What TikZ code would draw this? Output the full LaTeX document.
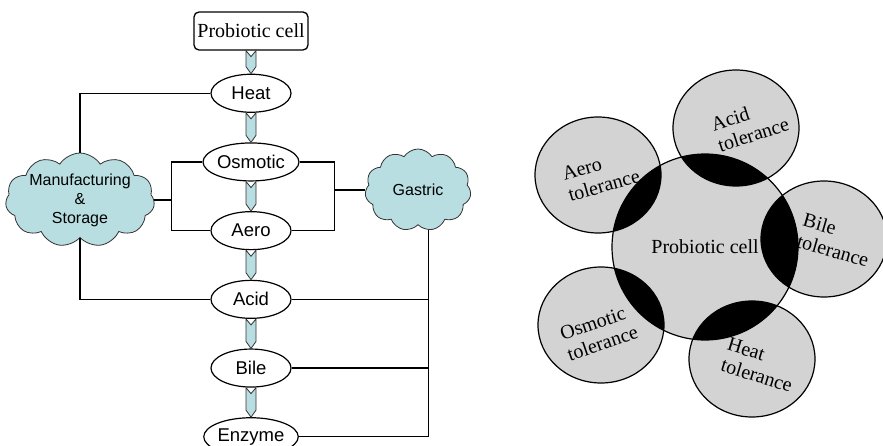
\documentclass[tikz,border=0pt]{standalone}
\usepackage{fontspec}
\setmainfont{Liberation Serif}
\newfontfamily\arialfam{Liberation Sans}
\usetikzlibrary{positioning,calc,shapes.geometric,shapes.symbols}
\definecolor{sky}{HTML}{B8DEE2}
\definecolor{cellgray}{HTML}{D3D3D3}
\definecolor{rim}{HTML}{333333}

% notched block arrow from one stage down to the next
\newcommand{\chevron}[2]{%
  \filldraw[chev] let \p1=(#1.south), \p2=(#2.north) in
    (\x1-5pt,\y1) -- (\x1,\y1-6pt) -- (\x1+5pt,\y1) -- (\x1+5pt,\y2+7pt)
    -- (\x1,\y2) -- (\x1-5pt,\y2+7pt) -- cycle;}

\begin{document}
\begin{tikzpicture}[x=1pt,y=1pt,
  every node/.style={inner sep=0pt},
  start/.style={draw,rounded corners=5pt,line width=1.3pt,minimum width=114pt,minimum height=38pt,font=\fontsize{20}{22}\selectfont},
  stage/.style={ellipse,draw,fill=white,line width=1.2pt,minimum width=80pt,minimum height=38pt,font=\arialfam\fontsize{18.5}{20}\selectfont},
  source/.style={cloud,cloud puffs=11,cloud puff arc=115,cloud ignores aspect,draw=rim,fill=sky,line width=0.8pt,align=center,font=\arialfam\fontsize{16}{19}\selectfont},
  link/.style={line width=1.2pt},
  chev/.style={fill=sky,draw=rim,line width=0.8pt},
  disc/.style={line width=1.2pt},
  tag/.style={align=left,font=\fontsize{20}{22}\selectfont}
]
\useasboundingbox (0,0) rectangle (883,445);

% stress chain
\node[start] (cell) at (251,414) {Probiotic cell};
\node[stage,below=23pt of cell] (heat) {Heat};
\node[stage,below=29.5pt of heat] (osm) {Osmotic};
\node[stage,below=29.5pt of osm] (aero) {Aero};
\node[stage,below=29.5pt of aero] (acid) {Acid};
\node[stage,below=29.5pt of acid] (bile) {Bile};
\node[stage,below=29.5pt of bile] (enz) {Enzyme};
\node[source,minimum width=144pt,minimum height=86pt] (mfg) at (80,245) {Manufacturing\\\&\\Storage};
\node[source,minimum width=106pt,minimum height=82pt] (gas) at (418,255) {Gastric};

\chevron{cell}{heat}
\chevron{heat}{osm}
\chevron{osm}{aero}
\chevron{aero}{acid}
\chevron{acid}{bile}
\chevron{bile}{enz}

\draw[link] (heat.west) -| (mfg.north);
\draw[link] (acid.west) -| (mfg.south);
\draw[link] (osm.west) -- ++(-31,0) coordinate (lb) |- (aero.west);
\draw[link] (mfg.east) -- (mfg.east -| lb);
\draw[link] (osm.east) -- ++(35,0) coordinate (rb) |- (aero.east);
\draw[link] (gas.west) -- (gas.west -| rb);
\draw[link] (enz.east) -| (gas.-75);
\draw[link] (acid.east) -- (acid.east -| gas.-75);
\draw[link] (bile.east) -- (bile.east -| gas.-75);

% cell with its tolerances
\coordinate (core) at (705,198);
\begin{scope}
  \foreach \p in {(736,317),(598,270),(824,206),(752,86),(601,120)}
    \fill[cellgray] \p ellipse (63 and 58);
  \fill[cellgray] (core) circle (93);
  \clip (core) circle (93);
  \foreach \p in {(736,317),(598,270),(824,206),(752,86),(601,120)}
    \fill[black] \p ellipse (63 and 58);
\end{scope}
\foreach \p in {(736,317),(598,270),(824,206),(752,86),(601,120)}
  \draw[disc] \p ellipse (63 and 58);
\draw[disc] (core) circle (93);

\node[tag] (celltxt) at (core) {Probiotic cell};
\node[tag,rotate=18] (acidtol) at (750,321) {Acid\\tolerance};
\node[tag,rotate=16] (aerotol) at (601,270) {Aero\\tolerance};
\node[tag,rotate=-16] (biletol) at (836,205) {Bile\\tolerance};
\node[tag,rotate=-17] (heattol) at (760,80) {Heat\\tolerance};
\node[tag,rotate=19] (osmtol) at (599,112) {Osmotic\\tolerance};
\end{tikzpicture}
\end{document}
